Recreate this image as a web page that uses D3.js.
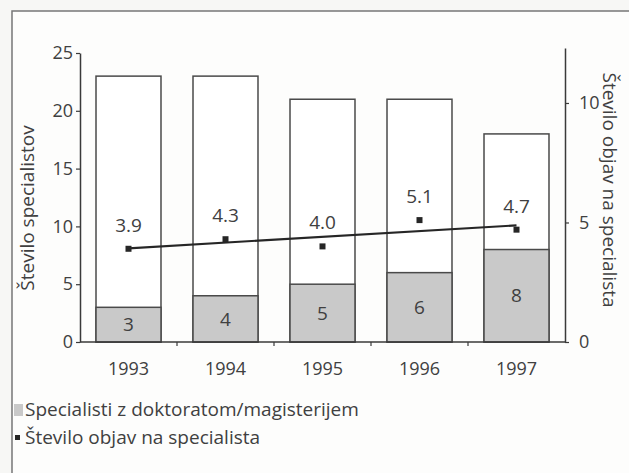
<!DOCTYPE html>
<html>
<head>
<meta charset="utf-8">
<script src="https://cdn.jsdelivr.net/npm/d3@7"></script>
<style>
  body { margin: 0; background: #f7f7f5; }
  svg text { font-family: "Open Sans", "DejaVu Sans", sans-serif; fill: #404040; }
</style>
</head>
<body>
<div id="chart"></div>
<script>
// data
var years = ["1993", "1994", "1995", "1996", "1997"];
var specialists = [23, 23, 21, 21, 18];        // all specialists (bar height)
var doctors = [3, 4, 5, 6, 8];                  // with doctorate/masters (grey part)
var papersPerSpec = [3.9, 4.3, 4.0, 5.1, 4.7];  // right axis
var leftTicks = [0, 5, 10, 15, 20, 25];
var rightTicks = [0, 5, 10];

var width = 629, height = 473;
var fs = 19;     // labels, titles, legend
var tfs = 18;    // tick labels

var svg = d3.select('#chart').append('svg')
    .attr('width', width)
    .attr('height', height);

// frame of the figure
svg.append('rect')
    .attr('x', 12).attr('y', 11)
    .attr('width', width + 20).attr('height', height + 20)
    .attr('fill', '#fdfdfc')
    .attr('stroke', '#777')
    .attr('stroke-width', 1.5);

var x = d3.scaleBand()
    .domain(years)
    .range([80, 565])
    .paddingInner(0.33)
    .paddingOuter(0.165);

var y = d3.scaleLinear().domain([0, 25]).range([342, 53]);
var y2 = d3.scaleLinear().domain([0, 12.3]).range([342, 48]);

var g = svg.append('g');

// bars: full height white, grey part on top of it
g.selectAll('rect.total')
    .data(years)
    .enter().append('rect')
      .attr('class', 'total')
      .attr('x', function(d) { return x(d); })
      .attr('y', function(d, i) { return y(specialists[i]); })
      .attr('width', x.bandwidth())
      .attr('height', function(d, i) { return y(0) - y(specialists[i]); })
      .attr('fill', '#fff')
      .attr('stroke', '#4a4a4a')
      .attr('stroke-width', 1.5);

g.selectAll('rect.grey')
    .data(years)
    .enter().append('rect')
      .attr('class', 'grey')
      .attr('x', function(d) { return x(d); })
      .attr('y', function(d, i) { return y(doctors[i]); })
      .attr('width', x.bandwidth())
      .attr('height', function(d, i) { return y(0) - y(doctors[i]); })
      .attr('fill', '#c9c9c9')
      .attr('stroke', '#4a4a4a')
      .attr('stroke-width', 1.5);

g.selectAll('text.grey')
    .data(years)
    .enter().append('text')
      .attr('x', function(d) { return x(d) + x.bandwidth() / 2; })
      .attr('y', function(d, i) { return (y(doctors[i]) + y(0)) / 2; })
      .attr('dy', '0.35em')
      .attr('text-anchor', 'middle')
      .style('font-size', fs + 'px')
      .text(function(d, i) { return doctors[i]; });

// axes
var axisStyle = function(sel) {
  sel.selectAll('path').attr('stroke', '#3a3a3a').attr('stroke-width', 1.5);
  sel.selectAll('line').attr('stroke', '#3a3a3a').attr('stroke-width', 1.2);
  sel.selectAll('text').style('font-size', tfs + 'px').attr('fill', '#404040');
  sel.attr('font-family', null);
};

svg.append('g')
    .attr('transform', 'translate(80,0)')
    .call(d3.axisLeft(y).tickValues(leftTicks).tickSize(4).tickSizeOuter(0).tickPadding(3))
    .call(axisStyle);

svg.append('g')
    .attr('transform', 'translate(565,0)')
    .call(d3.axisRight(y2).tickValues(rightTicks).tickSize(4).tickSizeOuter(0).tickPadding(10))
    .call(axisStyle);

// bottom axis: line plus ticks between the categories
var xb = svg.append('g');
xb.append('line')
    .attr('x1', 80).attr('x2', 565)
    .attr('y1', y(0)).attr('y2', y(0))
    .attr('stroke', '#3a3a3a').attr('stroke-width', 1.5);
xb.selectAll('line.tk')
    .data(years.slice(1))
    .enter().append('line')
      .attr('class', 'tk')
      .attr('x1', function(d) { return x(d) - x.step() * x.paddingInner() / 2; })
      .attr('x2', function(d) { return x(d) - x.step() * x.paddingInner() / 2; })
      .attr('y1', y(0)).attr('y2', y(0) + 4)
      .attr('stroke', '#3a3a3a').attr('stroke-width', 1.2);
xb.selectAll('text')
    .data(years)
    .enter().append('text')
      .attr('x', function(d) { return x(d) + x.bandwidth() / 2; })
      .attr('y', 375)
      .attr('text-anchor', 'middle')
      .style('font-size', tfs + 'px')
      .text(function(d) { return d; });

// trend line (least squares over the points)
var n = papersPerSpec.length;
var mx = d3.mean(years, function(d, i) { return i; });
var my = d3.mean(papersPerSpec);
var sxy = 0, sxx = 0;
papersPerSpec.forEach(function(v, i) { sxy += (i - mx) * (v - my); sxx += (i - mx) * (i - mx); });
var slope = sxy / sxx;
var fit = function(i) { return my + slope * (i - mx); };

var cx = function(i) { return x(years[i]) + x.bandwidth() / 2; };

g.append('line')
    .attr('x1', cx(0)).attr('y1', y2(fit(0)))
    .attr('x2', cx(n - 1)).attr('y2', y2(fit(n - 1)))
    .attr('stroke', '#262626')
    .attr('stroke-width', 2.2);

g.selectAll('rect.pt')
    .data(papersPerSpec)
    .enter().append('rect')
      .attr('class', 'pt')
      .attr('x', function(d, i) { return cx(i) - 3; })
      .attr('y', function(d) { return y2(d) - 3; })
      .attr('width', 6).attr('height', 6)
      .attr('fill', '#262626');

g.selectAll('text.pt')
    .data(papersPerSpec)
    .enter().append('text')
      .attr('class', 'pt')
      .attr('x', function(d, i) { return cx(i); })
      .attr('y', function(d) { return y2(d) - 17; })
      .attr('text-anchor', 'middle')
      .style('font-size', fs + 'px')
      .text(function(d) { return d.toFixed(1); });

// axis titles
svg.append('text')
    .attr('transform', 'translate(34,208) rotate(-90)')
    .attr('text-anchor', 'middle')
    .style('font-size', fs + 'px')
    .text('Število specialistov');

svg.append('text')
    .attr('transform', 'translate(603,190) rotate(90)')
    .attr('text-anchor', 'middle')
    .style('font-size', fs + 'px')
    .text('Število objav na specialista');

// legend
var leg = svg.append('g');
leg.append('rect')
    .attr('x', 14).attr('y', 404)
    .attr('width', 9).attr('height', 12)
    .attr('fill', '#c9c9c9');
leg.append('text')
    .attr('x', 25).attr('y', 416)
    .style('font-size', fs + 'px')
    .text('Specialisti z doktoratom/magisterijem');
leg.append('rect')
    .attr('x', 15).attr('y', 435)
    .attr('width', 5).attr('height', 5)
    .attr('fill', '#262626');
leg.append('text')
    .attr('x', 25).attr('y', 444)
    .style('font-size', fs + 'px')
    .text('Število objav na specialista');
</script>
</body>
</html>
